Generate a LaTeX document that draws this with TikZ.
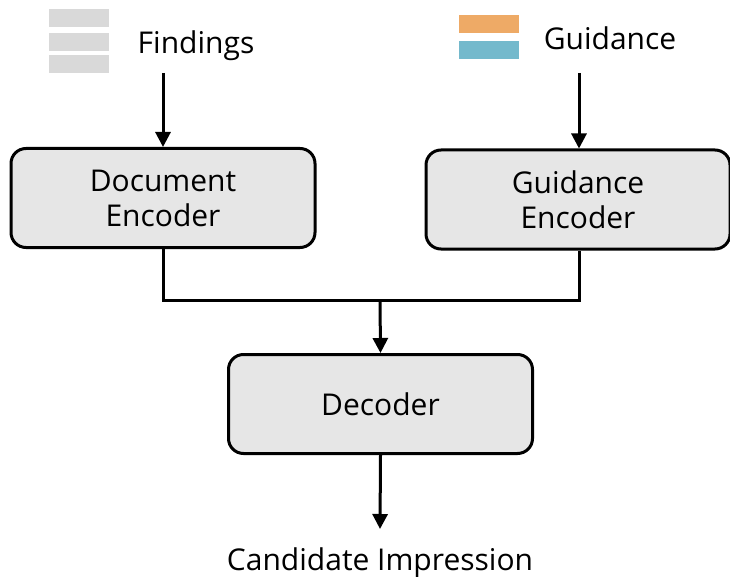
\documentclass[tikz,border=0pt]{standalone}
\usepackage{fontspec}
\setmainfont{Open Sans}
\usetikzlibrary{arrows.meta}
\definecolor{boxfill}{HTML}{E6E6E6}
\definecolor{barGray}{HTML}{D9D9D9}
\definecolor{barOrange}{HTML}{EEAA66}
\definecolor{barBlue}{HTML}{74B9CC}
\tikzset{
  block/.style={draw=black, line width=3pt, fill=boxfill, rounded corners=15pt,
    minimum width=304pt, minimum height=99pt, align=center,
    font=\fontsize{30}{35}\selectfont, inner sep=0pt},
  label/.style={font=\fontsize{30}{35}\selectfont, inner sep=0pt},
  flow/.style={line width=3pt, -{Triangle[width=15pt,length=15pt]}},
  wire/.style={line width=3pt},
}
\begin{document}
\begin{tikzpicture}[x=1pt,y=-1pt]
\useasboundingbox (0,0) rectangle (730,577);
% input markers
\fill[barGray] (49,9) rectangle (109,27);
\fill[barGray] (49,33) rectangle (109,51);
\fill[barGray] (49,55) rectangle (109,73);
\fill[barOrange] (459,15) rectangle (519,33);
\fill[barBlue] (459,41) rectangle (519,59);
% text labels
\node[label] (findings) at (196,46) {Findings};
\node[label] (guidance) at (610,38) {Guidance};
\coordinate (fin) at (163,73);
\coordinate (gin) at (579,73);
% blocks
\node[block] (docenc) at (163,198) {Document\\Encoder};
\node[block] (guienc) at (578,199.5) {Guidance\\Encoder};
\node[block] (dec) at (380.5,404) {Decoder};
\node[label] (out) at (380,563) {Candidate Impression};
\coordinate (join) at (380,300);
\coordinate (outend) at (380,529);
% connectors
\draw[flow] (fin) -- (docenc.north -| fin);
\draw[flow] (gin) -- (guienc.north -| gin);
\draw[wire] (docenc.south) |- (join) -| (guienc.south -| gin);
\draw[flow] (join) -- (dec.north);
\draw[flow] (dec.south) -- (outend);
\end{tikzpicture}
\end{document}
